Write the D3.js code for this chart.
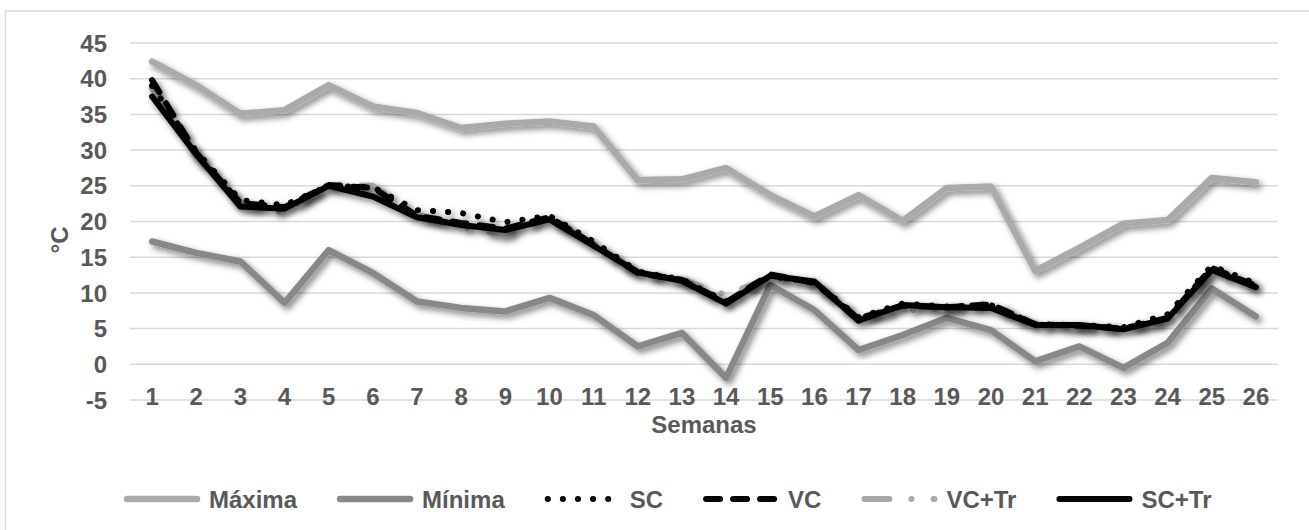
<!DOCTYPE html>
<html>
<head>
<meta charset="utf-8">
<script src="https://cdn.jsdelivr.net/npm/d3@7"></script>
<style>
  body { margin: 0; background: #fff; }
  text { font-family: "Liberation Sans", Arial, sans-serif; font-weight: bold; fill: #595959; }
</style>
</head>
<body>
<div class="chart"></div>
<script>
// weeks and temperatures (°C)
var semanas = [1,2,3,4,5,6,7,8,9,10,11,12,13,14,15,16,17,18,19,20,21,22,23,24,25,26];
var maxima = [42.4,39.1,35.1,35.6,39.1,36.1,35.2,33.1,33.7,34.0,33.3,25.8,25.9,27.5,23.7,20.7,23.7,20.1,24.7,24.9,13.1,16.3,19.7,20.2,26.1,25.5];
var minima = [17.2,15.6,14.4,8.6,16.0,12.8,8.8,7.9,7.4,9.3,6.9,2.5,4.4,-1.9,11.1,7.6,2.0,4.1,6.5,4.8,0.4,2.5,-0.5,3.0,10.6,6.7];
var sc   = [39.0,29.8,23.0,22.3,25.0,24.8,21.6,21.2,19.9,20.8,17.2,13.0,11.9,8.8,12.3,11.5,6.6,8.5,8.1,8.3,5.6,5.5,5.2,7.0,13.8,11.3];
var vc   = [39.8,29.6,22.6,22.0,25.1,24.7,20.8,19.8,19.0,20.6,16.8,12.8,11.8,8.7,12.6,11.4,6.4,8.2,8.0,8.4,5.6,5.4,5.0,6.5,13.5,11.0];
var vctr = [38.6,29.2,22.4,21.2,25.2,25.0,21.0,19.3,18.1,20.4,16.9,12.7,11.9,9.7,12.2,11.3,6.7,7.5,7.9,8.6,5.2,5.2,5.1,5.8,12.8,10.9];
var sctr = [37.5,29.4,22.1,21.8,25.0,23.5,20.6,19.5,18.8,20.3,16.6,12.9,11.7,8.5,12.4,11.6,6.1,8.3,8.0,7.9,5.5,5.5,4.9,6.4,13.2,10.8];
var yTicks = [-5,0,5,10,15,20,25,30,35,40,45];

var w = 1309, h = 530;
var plotLeft = 130, plotRight = 1278, plotTop = 43, plotBottom = 400;

var svg = d3.select(".chart").append("svg")
  .attr("width", w).attr("height", h);

var defs = svg.append("defs");
var f = defs.append("filter").attr("id", "shadow")
  .attr("x", "-5%").attr("y", "-20%").attr("width", "110%").attr("height", "140%");
f.append("feDropShadow").attr("dx", 3).attr("dy", 3.5).attr("stdDeviation", 3)
  .attr("flood-color", "#000").attr("flood-opacity", 0.5);

// outer chart border
svg.append("rect").attr("x", 5.5).attr("y", 11).attr("width", 1320).attr("height", 530)
  .attr("fill", "none").attr("stroke", "#d9d9d9").attr("stroke-width", 1.5);

var x = d3.scaleBand().domain(semanas).range([plotLeft, plotRight]);
var y = d3.scaleLinear().domain([-5, 45]).range([plotBottom, plotTop]);

// grid
svg.append("g").selectAll("line").data(yTicks).enter().append("line")
  .attr("x1", plotLeft).attr("x2", plotRight)
  .attr("y1", function(d) { return y(d); })
  .attr("y2", function(d) { return y(d); })
  .attr("stroke", "#d9d9d9").attr("stroke-width", 1.5);

// y tick labels
svg.append("g").selectAll("text").data(yTicks).enter().append("text")
  .attr("x", 107).attr("y", function(d) { return y(d); })
  .attr("dy", "0.36em").attr("text-anchor", "end")
  .style("font-size", "24px")
  .text(function(d) { return d; });

// x tick labels
svg.append("g").selectAll("text").data(semanas).enter().append("text")
  .attr("x", function(d) { return x(d) + x.bandwidth() / 2; })
  .attr("y", 405).attr("text-anchor", "middle")
  .style("font-size", "24px")
  .text(function(d) { return d; });

svg.append("text").attr("x", 704).attr("y", 433).attr("text-anchor", "middle")
  .style("font-size", "24px").text("Semanas");

svg.append("text").attr("transform", "translate(68,240) rotate(-90)")
  .attr("text-anchor", "middle").style("font-size", "24px").text("°C");

var series = [
  { name: "Máxima", values: maxima, color: "#aaaaaa", width: 6.5, dash: null, z: 0 },
  { name: "Mínima", values: minima, color: "#888888", width: 6.5, dash: null, z: 1 },
  { name: "SC", values: sc, color: "#000", width: 6, dash: "0.1 15", z: 5 },
  { name: "VC", values: vc, color: "#000", width: 6, dash: "14 13", z: 4 },
  { name: "VC+Tr", values: vctr, color: "#aaaaaa", width: 6, dash: "25 22 0.1 22", z: 2 },
  { name: "SC+Tr", values: sctr, color: "#000", width: 6, dash: null, z: 3 }
];

var line = d3.line()
  .x(function(d, i) { return x(semanas[i]) + x.bandwidth() / 2; })
  .y(function(d) { return y(d); });

var drawOrder = series.slice().sort(function(a, b) { return a.z - b.z; });

svg.append("g").selectAll("path").data(drawOrder).enter().append("path")
  .attr("d", function(s) { return line(s.values); })
  .attr("fill", "none")
  .attr("stroke", function(s) { return s.color; })
  .attr("stroke-width", function(s) { return s.width; })
  .attr("stroke-linecap", "round")
  .attr("stroke-linejoin", "round")
  .attr("stroke-dasharray", function(s) { return s.dash; })
  .attr("filter", "url(#shadow)");

// legend
var lx = 124, ly = 499;
series.forEach(function(s) {
  svg.append("line").attr("x1", lx + 3).attr("x2", lx + 73)
    .attr("y1", ly).attr("y2", ly)
    .attr("stroke", s.color).attr("stroke-width", s.width)
    .attr("stroke-linecap", "round")
    .attr("stroke-dasharray", s.dash);
  var t = svg.append("text").attr("x", lx + 85).attr("y", ly).attr("dy", "0.36em")
    .style("font-size", "24px").text(s.name);
  lx = lx + 85 + t.node().getComputedTextLength() + 40;
});
</script>
</body>
</html>
